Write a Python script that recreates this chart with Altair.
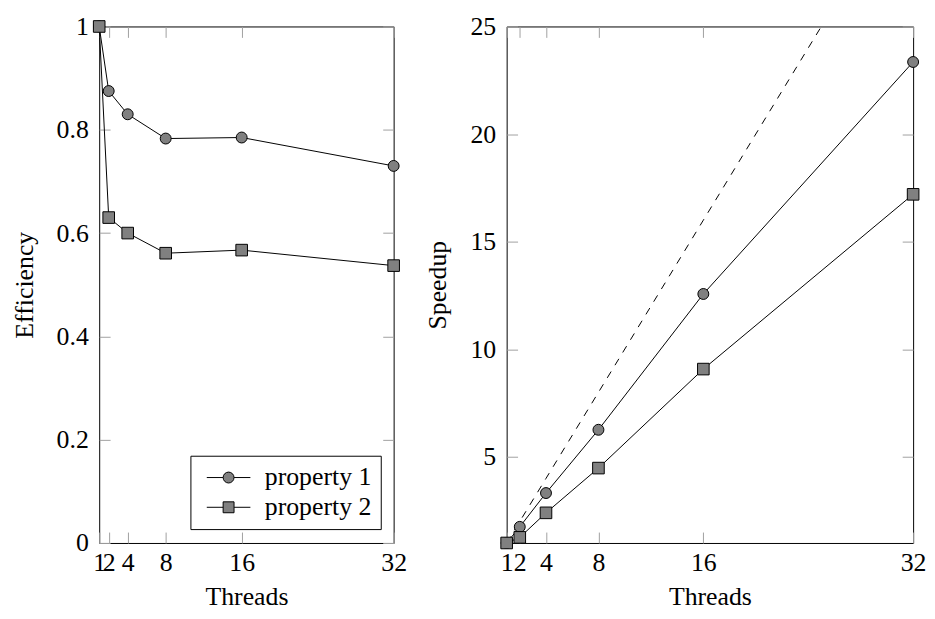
import altair as alt
import pandas as pd

# ---------------- data ----------------
threads = [1, 2, 4, 8, 16, 32]
series_names = ["property 1", "property 2"]
efficiency_p1 = [1.0, 0.875, 0.830, 0.783, 0.785, 0.730]
efficiency_p2 = [1.0, 0.630, 0.600, 0.561, 0.567, 0.537]
speedup_p1 = [1.0, 1.75, 3.32, 6.26, 12.57, 23.35]
speedup_p2 = [1.0, 1.26, 2.40, 4.48, 9.08, 17.2]
ideal_speedup = [1, 2, 4, 8, 16, 32]
eff_ticks = [0, 0.2, 0.4, 0.6, 0.8, 1.0]
speedup_ticks = [5, 10, 15, 20, 25]

FONT = "Liberation Serif"
FS = 26
GRAY = "#808080"
TICK = "#a0a0a0"
TL = 11  # tick length


def long_df(v1, v2):
    return pd.DataFrame({
        "threads": threads + threads,
        "value": v1 + v2,
        "series": [series_names[0]] * len(threads) + [series_names[1]] * len(threads),
    })


eff_df = long_df(efficiency_p1, efficiency_p2)
spd_df = long_df(speedup_p1, speedup_p2)
ideal_df = pd.DataFrame({"threads": threads, "value": ideal_speedup})


def x_label_axis():
    return alt.Axis(orient="bottom", values=threads, title="Threads", ticks=False, domain=False,
                    grid=False, labelPadding=7, titlePadding=8, labelOverlap=False,
                    labelFlush=False, labelBound=False, format="~g", minExtent=0)


def y_label_axis(values, title, extent, title_padding):
    return alt.Axis(orient="left", values=values, title=title, ticks=False, domain=False,
                    grid=False, labelPadding=11, titlePadding=title_padding,
                    labelOverlap=False, labelFlush=False, labelBound=False, format="~g",
                    minExtent=extent, maxExtent=extent)


def tick_axis(orient, values, offset):
    # inward-pointing ticks: an axis shifted into the plot area
    return alt.Axis(orient=orient, values=values, offset=offset, tickSize=TL, labels=False,
                    domain=False, grid=False, title=None, tickColor=TICK, tickWidth=1,
                    minExtent=0, maxExtent=TL)


circle_path = "M-1,0H2M4,0H7M4,0A1,1,0,1,1,2,0A1,1,0,1,1,4,0Z"
square_path = "M-1,0H2M4,0H7M2,-1H4V1H2Z"


def legend_def():
    return alt.Legend(
        title=None, orient="none", legendX=92, legendY=433,
        strokeColor="black", fillColor="white", padding=9,
        rowPadding=4, labelFont=FONT, labelFontSize=FS, labelColor="black",
        labelOffset=40, labelLimit=0, symbolStrokeWidth=1, symbolSize=121,
    )


def panel(df, y_domain, y_values, y_title, y_extent, y_title_pad, width, height,
          ideal=False, legend=False):
    xs = alt.Scale(domain=[1, 32], nice=False, zero=False)
    ys = alt.Scale(domain=y_domain, nice=False, zero=False)
    layers = []
    if ideal:
        layers.append(
            alt.Chart(ideal_df).mark_line(color="black", strokeWidth=1, strokeDash=[7.5, 7.5], clip=True).encode(
                x=alt.X("threads:Q", scale=xs, axis=None),
                y=alt.Y("value:Q", scale=ys, axis=None),
            )
        )
    layers.append(
        alt.Chart(df).mark_line(color="black", strokeWidth=1).encode(
            x=alt.X("threads:Q", scale=xs, axis=x_label_axis()),
            y=alt.Y("value:Q", scale=ys, axis=y_label_axis(y_values, y_title, y_extent, y_title_pad)),
            detail="series:N",
        )
    )
    layers.append(
        alt.Chart(df).transform_filter(alt.datum.series == series_names[0]).mark_point(
            shape="circle", size=121, filled=True, fill=GRAY, stroke="black", strokeWidth=1, opacity=1
        ).encode(
            x=alt.X("threads:Q", scale=xs, axis=tick_axis("bottom", threads, -TL)),
            y=alt.Y("value:Q", scale=ys, axis=tick_axis("left", y_values, -TL)),
        )
    )
    layers.append(
        alt.Chart(df).transform_filter(alt.datum.series == series_names[1]).mark_point(
            shape="square", size=137, filled=True, fill=GRAY, stroke="black", strokeWidth=1, opacity=1
        ).encode(
            x=alt.X("threads:Q", scale=xs, axis=tick_axis("bottom", threads, -height)),
            y=alt.Y("value:Q", scale=ys, axis=tick_axis("left", y_values, -width)),
        )
    )
    if legend:
        layers.append(
            alt.Chart(df).transform_filter("false").mark_point(
                filled=True, strokeWidth=1, size=121, opacity=1
            ).encode(
                x=alt.X("threads:Q", scale=xs, axis=None),
                y=alt.Y("value:Q", scale=ys, axis=None),
                shape=alt.Shape("series:N",
                                scale=alt.Scale(domain=series_names, range=[circle_path, square_path]),
                                legend=legend_def()),
                fill=alt.Fill("series:N",
                              scale=alt.Scale(domain=series_names, range=[GRAY, GRAY]),
                              legend=legend_def()),
                stroke=alt.Stroke("series:N",
                                  scale=alt.Scale(domain=series_names, range=["black", "black"]),
                                  legend=legend_def()),
            )
        )
    return alt.layer(*layers).resolve_axis(x="independent", y="independent").properties(
        width=width, height=height
    )


left = panel(eff_df, [0, 1], eff_ticks, "Efficiency", 44, 18, 297, 521, legend=True)
right = panel(spd_df, [1, 25], speedup_ticks, "Speedup", 37, 20, 410, 521, ideal=True)

chart = alt.hconcat(left, right, spacing=16).properties(
    padding={"left": 3, "top": 2, "right": 0, "bottom": 0}
).configure(font=FONT).configure_view(stroke="black", strokeWidth=1).configure_axis(
    labelFont=FONT, titleFont=FONT, labelFontSize=FS, titleFontSize=FS,
    labelColor="black", titleColor="black", titleFontWeight="normal",
).configure_legend(strokeWidth=1)

chart.save("out.html", embed_options={"renderer": "svg", "actions": False})
